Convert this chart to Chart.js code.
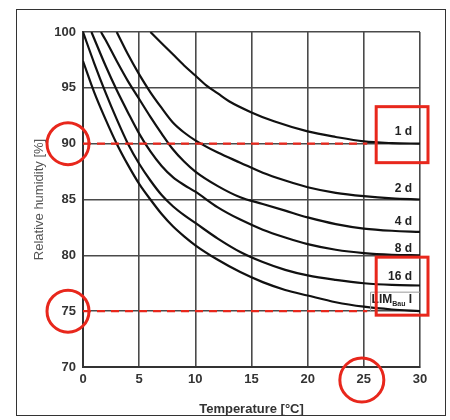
<!DOCTYPE html>
<html>
<head>
<meta charset="utf-8">
<script src="https://cdn.jsdelivr.net/npm/chart.js@4/dist/chart.umd.min.js"></script>
<style>
  html, body { margin: 0; padding: 0; background: #fff; }
  #frame { position: absolute; left: 16px; top: 9px; width: 428px; height: 405px;
           border: 1px solid #333; overflow: hidden; background: #fff; }
  #wrap { position: absolute; left: -17px; top: -10px; width: 450px; height: 430px; }
</style>
</head>
<body>
<div id="frame"><div id="wrap"><canvas id="chart" width="450" height="430"></canvas></div></div>
<script>
// isopleths: [temperature °C, relative humidity %]
const curve1d = [[6,100],[7,99.0],[8,98.0],[9,97.0],[10,96.1],[11,95.2],[12,94.5],[13,93.8],[15,92.8],[17,92.0],[20,91.1],[22.5,90.6],[25,90.2],[27.5,90.05],[30,90]];
const curve2d = [[3,100],[4,98.0],[5,96.2],[6,94.6],[7,93.2],[8,91.9],[9,91.0],[10,90.3],[12,89.2],[14,88.3],[16,87.4],[18,86.7],[20,86.1],[22.5,85.6],[25,85.3],[27.5,85.1],[30,85]];
const curve4d = [[1.6,100],[2,99.3],[3,97.4],[4,95.6],[5,94.0],[6,92.4],[7,90.9],[8,89.5],[9,88.4],[10,87.5],[12,86.2],[14,85.2],[16,84.6],[18,84.0],[20,83.4],[22.5,82.8],[25,82.4],[27.5,82.2],[30,82.1]];
const curve8d = [[0.75,100],[1,99.4],[2,97.0],[3,94.8],[4,92.8],[5,90.9],[6,89.3],[7,88.0],[8,87.0],[9,86.3],[10,85.7],[12,84.3],[14,83.2],[16,82.3],[18,81.6],[20,81.0],[22.5,80.5],[25,80.2],[27.5,80.05],[30,80]];
const curve16d = [[0,100],[1,97.2],[2,94.6],[3,92.2],[4,90.0],[5,88.2],[6,86.7],[7,85.4],[8,84.4],[9,83.6],[10,82.9],[12,81.5],[14,80.3],[16,79.4],[18,78.7],[20,78.2],[22.5,77.8],[25,77.5],[27.5,77.35],[30,77.3]];
const curveLim = [[0,97.4],[1,94.6],[2,92.2],[3,90.0],[4,88.1],[5,86.4],[6,85.0],[7,83.7],[8,82.6],[9,81.7],[10,80.9],[12,79.6],[14,78.5],[16,77.6],[18,76.9],[20,76.4],[22.5,75.8],[25,75.4],[27.5,75.15],[30,75]];

const curves = [curve1d, curve2d, curve4d, curve8d, curve16d, curveLim];
const curveLabels = ['1 d', '2 d', '4 d', '8 d', '16 d', 'LIM'];
const labelOffsets = [-12, -11, -10, -7, -9, -11];

// red marker lines and highlighted ticks
const refLevels = [90, 75];
const refEndTemp = 25.3;
const circledRh = [90, 75];
const circledTemp = [25];

const xTicks = [0, 5, 10, 15, 20, 25, 30];
const yTicks = [70, 75, 80, 85, 90, 95, 100];

const RED = '#e8271c';
const FONT = '"Liberation Sans", Arial, sans-serif';

const datasets = curves.map((c, i) => ({
  label: curveLabels[i],
  data: c.map(p => ({ x: p[0], y: p[1] })),
  borderColor: '#111',
  borderWidth: 2.2,
  pointRadius: 0,
  cubicInterpolationMode: 'monotone',
  order: 1
}));
refLevels.forEach(v => {
  datasets.push({
    label: 'ref ' + v,
    data: [{ x: 0, y: v }, { x: refEndTemp, y: v }],
    borderColor: RED,
    borderWidth: 2.3,
    borderDash: [8, 6],
    pointRadius: 0,
    order: 0
  });
});

const annotate = {
  id: 'annotate',
  afterDatasetsDraw(chart) {
    const { ctx, scales: { x, y } } = chart;
    ctx.save();
    // curve labels
    ctx.fillStyle = '#222';
    ctx.textAlign = 'right';
    ctx.textBaseline = 'middle';
    const lx = x.getPixelForValue(29.3);
    curves.forEach((c, i) => {
      const py = y.getPixelForValue(c[c.length - 1][1]) + labelOffsets[i];
      if (curveLabels[i] === 'LIM') {
        ctx.font = 'bold 12px ' + FONT;
        ctx.fillText('I', lx, py);
        const wI = ctx.measureText(' I').width;
        ctx.font = 'bold 7px ' + FONT;
        ctx.fillText('Bau', lx - wI, py + 4);
        const wB = ctx.measureText('Bau').width;
        ctx.font = 'bold 12px ' + FONT;
        ctx.fillText('LIM', lx - wI - wB, py);
        // little box round the label
        ctx.strokeStyle = '#999';
        ctx.lineWidth = 1;
        const bl = x.getPixelForValue(25.6);
        const bt = y.getPixelForValue(c[c.length - 1][1]) - 19;
        ctx.beginPath();
        ctx.moveTo(bl, y.getPixelForValue(c[c.length - 1][1]));
        ctx.lineTo(bl, bt);
        ctx.lineTo(x.right, bt);
        ctx.stroke();
      } else {
        ctx.font = 'bold 12px ' + FONT;
        ctx.fillText(curveLabels[i], lx, py);
      }
    });

    // red circles and boxes
    ctx.strokeStyle = RED;
    ctx.lineWidth = 3;
    circledRh.forEach(v => {
      ctx.beginPath();
      ctx.arc(x.left - 15, y.getPixelForValue(v), 21, 0, Math.PI * 2);
      ctx.stroke();
    });
    circledTemp.forEach(v => {
      ctx.beginPath();
      ctx.arc(x.getPixelForValue(v) - 2, y.bottom + 13, 22, 0, Math.PI * 2);
      ctx.stroke();
    });
    const bx = x.getPixelForValue(26.1);
    const bw = x.right + 8 - bx;
    const y90 = y.getPixelForValue(90);
    ctx.strokeRect(bx, y90 - 37, bw, 56);
    const y75 = y.getPixelForValue(75);
    ctx.strokeRect(bx, y75 - 54, bw, 58);
    ctx.restore();
  }
};

new Chart(document.getElementById('chart'), {
  type: 'line',
  data: { datasets },
  options: {
    responsive: false,
    animation: false,
    layout: { padding: { left: 32, right: 30, top: 32, bottom: 0 } },
    plugins: { legend: { display: false }, tooltip: { enabled: false } },
    scales: {
      x: {
        type: 'linear',
        min: 0, max: 30,
        afterBuildTicks: s => { s.ticks = xTicks.map(v => ({ value: v })); },
        afterFit: s => { s.height = 63; },
        grid: { color: '#4a4a4a', lineWidth: 1.6, drawTicks: false },
        border: { color: '#333', width: 2 },
        ticks: { color: '#333', padding: 5, font: { family: FONT, size: 13, weight: 'bold' } },
        title: { display: true, text: 'Temperature [°C]', color: '#333',
                 font: { family: FONT, size: 13, weight: 'bold' }, padding: { top: 4, bottom: 13 } }
      },
      y: {
        type: 'linear',
        min: 70, max: 100,
        afterBuildTicks: s => { s.ticks = yTicks.map(v => ({ value: v })); },
        afterFit: s => { s.width = 51; },
        grid: { color: '#4a4a4a', lineWidth: 1.6, drawTicks: false },
        border: { color: '#333', width: 2 },
        ticks: { color: '#333', padding: 7, font: { family: FONT, size: 13, weight: 'bold' } },
        title: { display: true, text: 'Relative humidity [%]', color: '#555',
                 font: { family: FONT, size: 13 }, padding: 0 }
      }
    }
  },
  plugins: [annotate]
});
</script>
</body>
</html>
